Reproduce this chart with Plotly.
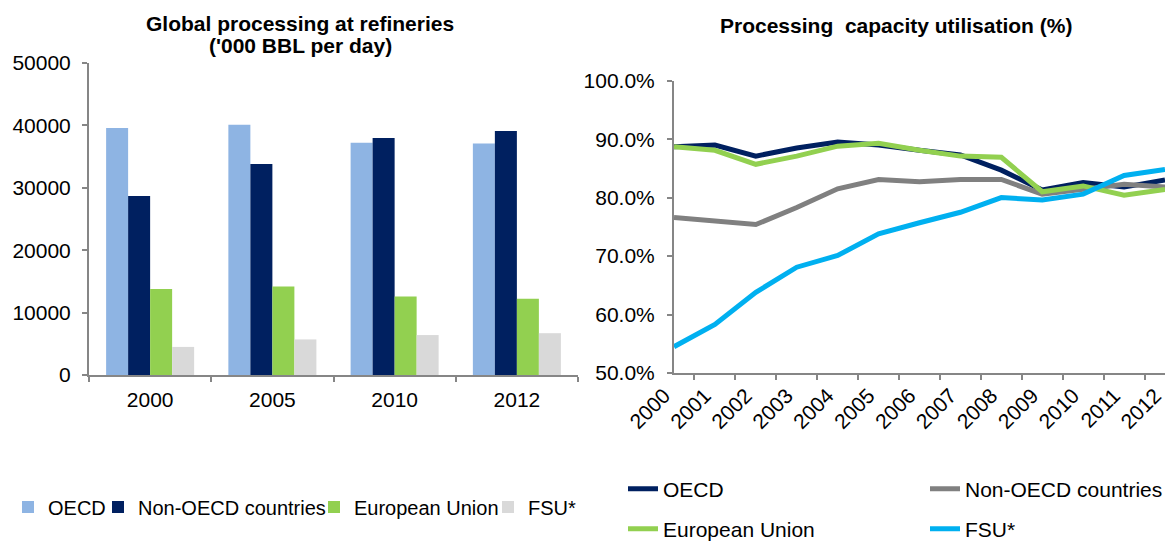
import plotly.graph_objects as go

# ---------------- data ----------------
bar_years = ["2000", "2005", "2010", "2012"]
bar_oecd = [39600, 40100, 37200, 37100]
bar_non_oecd = [28700, 33800, 38000, 39100]
bar_eu = [13800, 14200, 12600, 12200]
bar_fsu = [4500, 5700, 6400, 6700]

line_years = ["2000", "2001", "2002", "2003", "2004", "2005", "2006",
              "2007", "2008", "2009", "2010", "2011", "2012"]
util_oecd = [88.7, 89.0, 87.1, 88.5, 89.5, 89.0, 88.1, 87.3, 84.7, 81.3, 82.6, 81.8, 83.0]
util_non_oecd = [76.6, 76.0, 75.4, 78.3, 81.5, 83.1, 82.7, 83.1, 83.1, 80.6, 81.5, 82.3, 81.8]
util_eu = [88.7, 88.1, 85.7, 87.1, 88.8, 89.3, 88.1, 87.1, 86.9, 81.0, 82.0, 80.4, 81.4]
util_fsu = [54.5, 58.3, 63.8, 68.1, 70.1, 73.8, 75.7, 77.5, 80.0, 79.6, 80.6, 83.8, 84.8]

series_names = ["OECD", "Non-OECD countries", "European Union", "FSU*"]
bar_colors = ["#8EB4E3", "#002060", "#92D050", "#D9D9D9"]
line_colors = ["#002060", "#808080", "#92D050", "#00B0F0"]

# the page body has an 8px margin on every side: keep the figure inside the window
OFF = 8
W, H = 1173 - 2 * OFF, 550 - 2 * OFF
FONT = "Liberation Sans, Arial, sans-serif"


def px(x):
    return (x - OFF) / W


def py(y):
    return 1 - (y - OFF) / H


fig = go.Figure()

bar_values = [bar_oecd, bar_non_oecd, bar_eu, bar_fsu]
for i, (name, vals, col) in enumerate(zip(series_names, bar_values, bar_colors)):
    fig.add_trace(go.Bar(
        x=bar_years, y=vals, name=name, marker=dict(color=col, line=dict(width=0)),
        xaxis="x", yaxis="y", legend="legend" if i == 0 else f"legend{i + 1}",
    ))

line_values = [util_oecd, util_non_oecd, util_eu, util_fsu]
for i, (name, vals, col) in enumerate(zip(series_names, line_values, line_colors)):
    fig.add_trace(go.Scatter(
        x=line_years, y=vals, name=name, mode="lines",
        line=dict(color=col, width=5),
        xaxis="x2", yaxis="y2", legend=f"legend{i + 5}",
    ))

axis_line = "#868686"
tick_font = dict(family=FONT, size=21, color="#000000")

# legend positions (text start x, centre y, font size) in page pixels
left_leg = [(48, 507, 20), (138, 507, 20), (354, 507, 20), (528, 507, 20)]
right_leg = [(663, 489, 21), (965, 489, 21), (663, 529, 21), (965, 529, 21)]

legends = {}
for i, (tx, ty, fs) in enumerate(left_leg + right_leg):
    key = "legend" if i == 0 else f"legend{i + 1}"
    legends[key] = dict(
        x=max(px(tx - 40), 0), y=py(ty), xanchor="left", yanchor="middle",
        orientation="h", bgcolor="rgba(0,0,0,0)",
        font=dict(family=FONT, size=fs, color="#000000"),
        itemwidth=30,
    )

title_font = dict(family=FONT, size=21, color="#000000")

fig.update_layout(
    width=W, height=H,
    margin=dict(l=0, r=0, t=0, b=0, autoexpand=False),
    paper_bgcolor="white", plot_bgcolor="white",
    font=dict(family=FONT, color="#000000"),
    barmode="group", bargap=0.28, bargroupgap=0,
    showlegend=True,
    xaxis=dict(
        domain=[px(89), px(578)], anchor="y", type="category",
        showline=True, linecolor=axis_line, linewidth=2,
        ticks="outside", ticklen=5, tickcolor=axis_line, tickwidth=2,
        tickson="boundaries", showgrid=False, tickfont=tick_font,
        ticklabelstandoff=5,
    ),
    yaxis=dict(
        domain=[py(375), py(63)], anchor="x", range=[0, 50000], dtick=10000,
        tickformat="d", showline=True, linecolor=axis_line, linewidth=2,
        ticks="outside", ticklen=5, tickcolor=axis_line, tickwidth=2,
        showgrid=False, zeroline=False, tickfont=tick_font,
        ticklabelstandoff=7,
    ),
    xaxis2=dict(
        domain=[px(674), 1.0], anchor="y2", type="category",
        showline=True, linecolor=axis_line, linewidth=2,
        ticks="outside", ticklen=5, tickcolor=axis_line, tickwidth=2,
        tickson="boundaries", showgrid=False, tickfont=tick_font,
        tickangle=-45, ticklabelshift=-10,
    ),
    yaxis2=dict(
        domain=[py(373), py(80.7)], anchor="x2", range=[50, 100], dtick=10,
        tickformat=".1f", ticksuffix="%", showline=True, linecolor=axis_line,
        linewidth=2, ticks="outside", ticklen=5, tickcolor=axis_line, tickwidth=2,
        showgrid=False, zeroline=False, tickfont=tick_font,
        ticklabelstandoff=8,
    ),
    annotations=[
        dict(text="<b>Global processing at refineries</b>",
             x=px(300), y=py(24), xref="paper", yref="paper",
             xanchor="center", yanchor="middle", showarrow=False,
             font=title_font),
        dict(text="<b>('000 BBL per day)</b>",
             x=px(300), y=py(46), xref="paper", yref="paper",
             xanchor="center", yanchor="middle", showarrow=False,
             font=title_font),
        dict(text="<b>Processing\u00a0 capacity utilisation (%)</b>",
             x=px(896), y=py(26), xref="paper", yref="paper",
             xanchor="center", yanchor="middle", showarrow=False,
             font=title_font),
    ],
    **legends,
)

fig.write_html("out.html")
